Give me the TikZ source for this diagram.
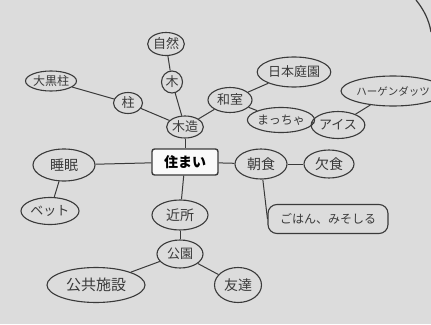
\documentclass[tikz,border=0pt]{standalone}
\usepackage{fontspec}
\newfontfamily\cjk{Noto Sans CJK JP}
\usetikzlibrary{shapes.geometric}
\definecolor{paper}{HTML}{DCDCDC}
\definecolor{ink}{HTML}{3A3A3A}
\tikzset{
  bub/.style={draw=ink, line width=1.1pt, ellipse, inner sep=0pt, text=ink,
    font=\cjk\fontsize{13}{13}\selectfont},
  link/.style={draw=ink, line width=1pt},
}
\begin{document}
\begin{tikzpicture}[x=1pt,y=-1pt]
\fill[paper] (0,0) rectangle (431,324);
\useasboundingbox (0,0) rectangle (431,324);
% page edge arc
\draw[ink, line width=1.2pt] (416,0) .. controls (424,10) and (429,20) .. (431,32);
% centre
\node[draw=ink, line width=1.4pt, rounded corners=2.5pt, fill=white!85!paper,
  minimum width=66pt, minimum height=26pt, inner sep=0pt, text=black,
  font=\cjk\bfseries\fontsize{14}{14}\selectfont] (home) at (185,162) {住まい};
% upper
\node[bub, minimum width=36pt, minimum height=22pt] (mokuzo) at (185,127) {木造};
\node[bub, minimum width=21pt, minimum height=22pt] (ki) at (172,82) {木};
\node[bub, minimum width=36pt, minimum height=23pt] (shizen) at (166,44) {自然};
\node[bub, minimum width=29pt, minimum height=21pt] (hashira) at (128,103) {柱};
\node[bub, minimum width=50pt, minimum height=20pt, font=\cjk\fontsize{12}{12}\selectfont] (daikoku) at (51,81) {大黒柱};
\node[bub, minimum width=44pt, minimum height=25pt] (washitsu) at (230,100) {和室};
\node[bub, minimum width=70pt, minimum height=30pt] (teien) at (294,72) {日本庭園};
\node[bub, minimum width=60pt, minimum height=25pt, font=\cjk\fontsize{12}{12}\selectfont] (maccha) at (281,120) {まっちゃ};
\node[bub, minimum width=48pt, minimum height=27pt] (aisu) at (338,125) {アイス};
\node[bub, minimum width=80pt, minimum height=30pt, font=\cjk\fontsize{10.5}{10.5}\selectfont] (haagen) at (393,91) {ハーゲンダッツ};
% right
\node[bub, minimum width=52pt, minimum height=30pt, font=\cjk\fontsize{14}{14}\selectfont] (choshoku) at (261,164) {朝食};
\node[bub, minimum width=50pt, minimum height=28pt, font=\cjk\fontsize{14}{14}\selectfont] (kesshoku) at (329,164) {欠食};
\node[draw=ink, line width=1.1pt, rounded corners=9pt, minimum width=120pt,
  minimum height=29pt, inner sep=0pt, text=ink,
  font=\cjk\fontsize{12}{12}\selectfont] (gohan) at (328,219) {ごはん、みそしる};
% left
\node[bub, minimum width=62pt, minimum height=32pt, font=\cjk\fontsize{14}{14}\selectfont] (suimin) at (64,165) {睡眠};
\node[bub, minimum width=58pt, minimum height=27pt] (betto) at (50,211) {ベット};
% lower
\node[bub, minimum width=56pt, minimum height=30pt, font=\cjk\fontsize{14}{14}\selectfont] (kinjo) at (180,215) {近所};
\node[bub, minimum width=46pt, minimum height=28pt] (koen) at (180,254) {公園};
\node[bub, minimum width=98pt, minimum height=35pt, font=\cjk\fontsize{15}{15}\selectfont] (kokyo) at (96,285) {公共施設};
\node[bub, minimum width=47pt, minimum height=35pt, font=\cjk\fontsize{14}{14}\selectfont] (tomo) at (238,285) {友達};
% connectors
\draw[link] (home) -- (mokuzo);
\draw[link] (mokuzo) -- (ki);
\draw[link] (ki) -- (shizen);
\draw[link] (mokuzo) -- (hashira);
\draw[link] (hashira) -- (daikoku);
\draw[link] (mokuzo) -- (washitsu);
\draw[link] (washitsu) -- (teien);
\draw[link] (washitsu) -- (maccha);
\draw[link] (maccha) -- (aisu);
\draw[link] (aisu) -- (haagen);
\draw[link] (home) -- (choshoku);
\draw[link] (choshoku) -- (kesshoku);
\draw[link] (choshoku) -- (gohan.west);
\draw[link] (home) -- (suimin);
\draw[link] (suimin) -- (betto);
\draw[link] (home) -- (kinjo);
\draw[link] (kinjo) -- (koen);
\draw[link] (koen) -- (kokyo);
\draw[link] (koen) -- (tomo);
\end{tikzpicture}
\end{document}
